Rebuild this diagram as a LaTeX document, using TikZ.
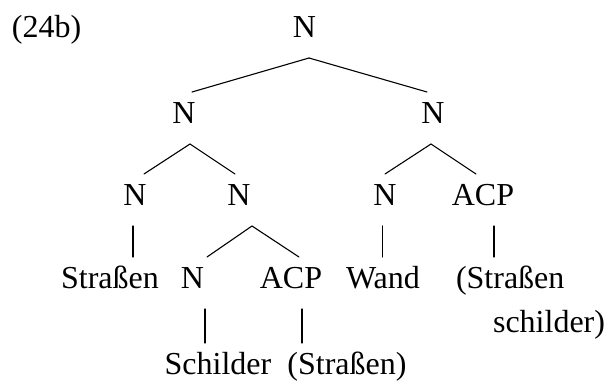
\documentclass[tikz,border=0pt]{standalone}
\usepackage{fontspec}
\setmainfont{Liberation Serif}
\begin{document}
\begin{tikzpicture}[x={(1pt,0pt)}, y={(0pt,-1pt)},
  lab/.style={inner sep=0pt, outer sep=0pt, text height=31pt, text depth=21pt,
              anchor=base, font=\fontsize{32pt}{38pt}\selectfont},
  leaf/.style={lab, text depth=5pt},
  branch/.style={line width=1.1pt, line cap=round}]
\useasboundingbox (0,0) rectangle (610,380);

% example number
\node[lab, anchor=base west] (num) at (12,37) {(24b)};

% tree labels (placed on their baselines)
\node[lab] (root) at (304.5,37) {N};
\node[lab] (nl) at (184,123) {N};
\node[lab] (nr) at (433,123) {N};
\node[lab] (nll) at (135,205) {N};
\node[lab] (nlr) at (239,205) {N};
\node[lab] (nrl) at (385,205) {N};
\node[lab] (acpr) at (483,205) {ACP};
\node[lab] (strassen) at (110,288) {Straßen};
\node[lab] (nlrl) at (192.5,288) {N};
\node[lab] (acpl) at (291,288) {ACP};
\node[lab] (wand) at (383,288) {Wand};
\node[lab, anchor=base west] (ss1) at (456,288) {(Straßen};
\node[leaf, anchor=base east] (ss2) at (605,332) {schilder)};
\node[leaf] (schilder) at (218,374) {Schilder};
\node[leaf] (strparen) at (347,374) {(Straßen)};

% branches
\draw[branch] ([xshift=4.5pt]root.south) -- ([xshift=8pt]nl.north);
\draw[branch] ([xshift=4.5pt]root.south) -- ([xshift=-6pt]nr.north);
\draw[branch] ([xshift=6pt]nl.south) -- ([xshift=9pt]nll.north);
\draw[branch] ([xshift=6pt]nl.south) -- ([xshift=-4pt]nlr.north);
\draw[branch] ([xshift=-2pt]nr.south) -- (nrl.north);
\draw[branch] ([xshift=-2pt]nr.south) -- ([xshift=-7pt]acpr.north);
\draw[branch] ([xshift=13pt]nlr.south) -- ([xshift=14.5pt]nlrl.north);
\draw[branch] ([xshift=13pt]nlr.south) -- ([xshift=8pt]acpl.north);

% unary branches
\draw[branch] ([xshift=-2pt]nll.south) -- ([xshift=-2pt]nll.south |- strassen.north);
\draw[branch] ([xshift=-2.5pt]nrl.south) -- ([xshift=-2.5pt]nrl.south |- wand.north);
\draw[branch] ([xshift=11pt]acpr.south) -- ([xshift=11pt]acpr.south |- ss1.north);
\draw[branch] ([xshift=12.5pt]nlrl.south) -- ([xshift=12.5pt]nlrl.south |- schilder.north);
\draw[branch] ([xshift=11pt]acpl.south) -- ([xshift=11pt]acpl.south |- strparen.north);
\end{tikzpicture}
\end{document}
